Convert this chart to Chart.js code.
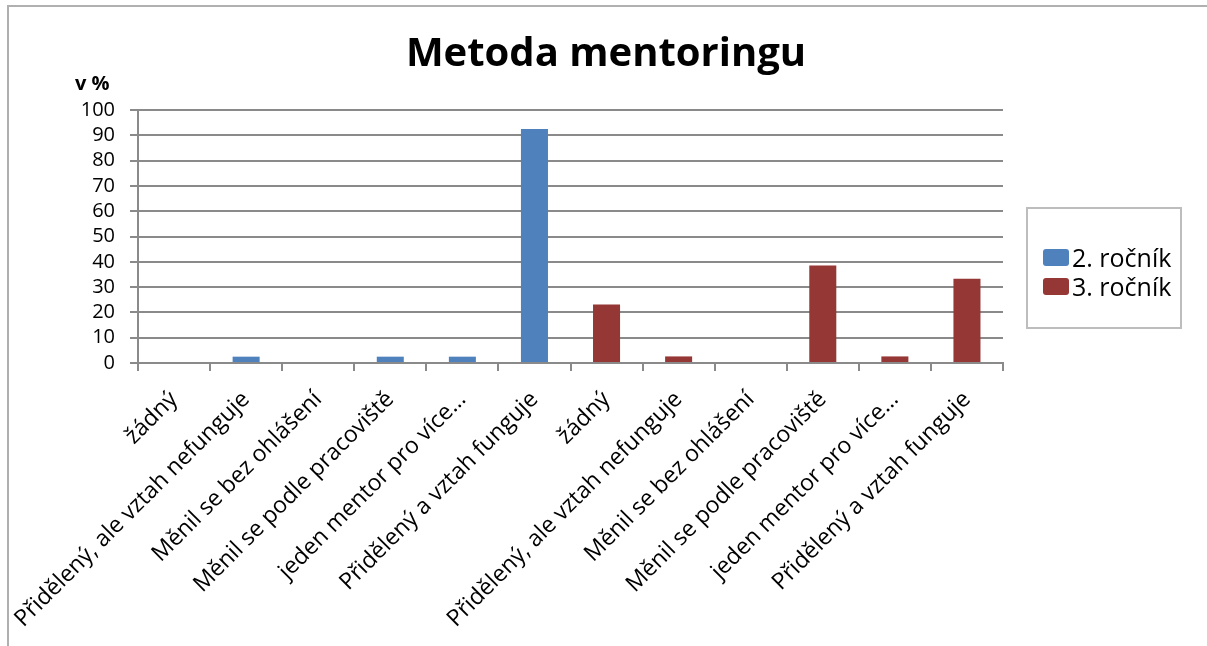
<!DOCTYPE html>
<html>
<head>
<meta charset="utf-8">
<script src="https://cdn.jsdelivr.net/npm/chart.js@4.4.1/dist/chart.umd.min.js"></script>
<style>
  html, body { margin: 0; padding: 0; background: #fff; }
  #wrap { position: relative; width: 1207px; height: 646px; overflow: hidden; }
  #frame { position: absolute; left: 7px; top: 5px; width: 1210px; height: 700px; border: 2px solid #b0b0b0; box-sizing: border-box; }
  canvas { position: absolute; left: 0; top: 0; }
  #legend { position: absolute; left: 1026px; top: 207px; width: 156px; height: 122px; border: 2px solid #bdbdbd; box-sizing: border-box; font-family: "Open Sans", sans-serif; font-size: 25px; line-height: 33px; color: #000; }
  .item { position: absolute; left: 15px; display: flex; align-items: center; }
  .sw { width: 26px; height: 17px; border-radius: 3px; margin-right: 3px; }
</style>
</head>
<body>
<div id="wrap">
  <div id="frame"></div>
  <canvas id="c" width="1207" height="646"></canvas>
  <div id="legend"></div>
</div>
<script>
const categories = [
  "žádný", "Přidělený, ale vztah nefunguje", "Měnil se bez ohlášení", "Měnil se podle pracoviště", "jeden mentor pro více…", "Přidělený a vztah funguje",
  "žádný", "Přidělený, ale vztah nefunguje", "Měnil se bez ohlášení", "Měnil se podle pracoviště", "jeden mentor pro více…", "Přidělený a vztah funguje"
];
const seriesNames = ["2. ročník", "3. ročník"];
const rocnik2 = [0, 2.5, 0, 2.5, 2.5, 92.5, null, null, null, null, null, null];
const rocnik3 = [null, null, null, null, null, null, 23.1, 2.6, 0, 38.5, 2.6, 33.3];
const yMin = 0, yMax = 100, yStep = 10;
const colors = ["#4F81BD", "#953735"];
const titleText = "Metoda mentoringu";
const unitText = "v %";

const legend = document.getElementById('legend');
seriesNames.forEach((n, i) => {
  const d = document.createElement('div');
  d.className = 'item';
  d.style.top = (i === 0 ? 32 : 61) + 'px';
  d.innerHTML = '<span class="sw" style="background:' + colors[i] + '"></span><span>' + n + '</span>';
  legend.appendChild(d);
});

const textPlugin = {
  id: 'texts',
  afterDraw(chart) {
    const ctx = chart.ctx;
    ctx.save();
    ctx.fillStyle = '#000';
    ctx.font = 'bold 40px "Open Sans", sans-serif';
    ctx.textAlign = 'center';
    ctx.textBaseline = 'alphabetic';
    ctx.fillText(titleText, 606, 66);
    ctx.font = 'bold 20px "Open Sans", sans-serif';
    ctx.textAlign = 'left';
    ctx.textBaseline = 'middle';
    ctx.fillText(unitText, 75, 84);
    ctx.restore();
  }
};

new Chart(document.getElementById('c'), {
  type: 'bar',
  data: {
    labels: categories,
    datasets: [
      { label: seriesNames[0], data: rocnik2, backgroundColor: colors[0], grouped: false, categoryPercentage: 1, barPercentage: 0.375 },
      { label: seriesNames[1], data: rocnik3, backgroundColor: colors[1], grouped: false, categoryPercentage: 1, barPercentage: 0.375 }
    ]
  },
  options: {
    responsive: false,
    animation: false,
    layout: { padding: { left: 0, right: 204, top: 110, bottom: 0 } },
    plugins: {
      legend: { display: false },
      tooltip: { enabled: false },
      title: { display: false }
    },
    scales: {
      x: {
        afterFit(s) { s.height = 283; },
        grid: { offset: true, drawOnChartArea: false, drawTicks: true, tickLength: 8, color: '#8a8a8a', lineWidth: 2 },
        border: { display: true, color: '#8a8a8a', width: 2 },
        ticks: { color: '#000', maxRotation: 45, minRotation: 45, autoSkip: false, padding: 15, labelOffset: 0,
          font: { family: '"Open Sans", sans-serif', size: 23 } }
      },
      y: {
        min: yMin, max: yMax,
        afterFit(s) { s.width = 138; },
        grid: { color: '#8a8a8a', lineWidth: 2, tickLength: 8, drawTicks: true },
        border: { display: true, color: '#8a8a8a', width: 2 },
        ticks: { stepSize: yStep, autoSkip: false, color: '#000', padding: 15, font: { family: '"Open Sans", sans-serif', size: 20 } }
      }
    }
  },
  plugins: [textPlugin]
});
</script>
</body>
</html>
